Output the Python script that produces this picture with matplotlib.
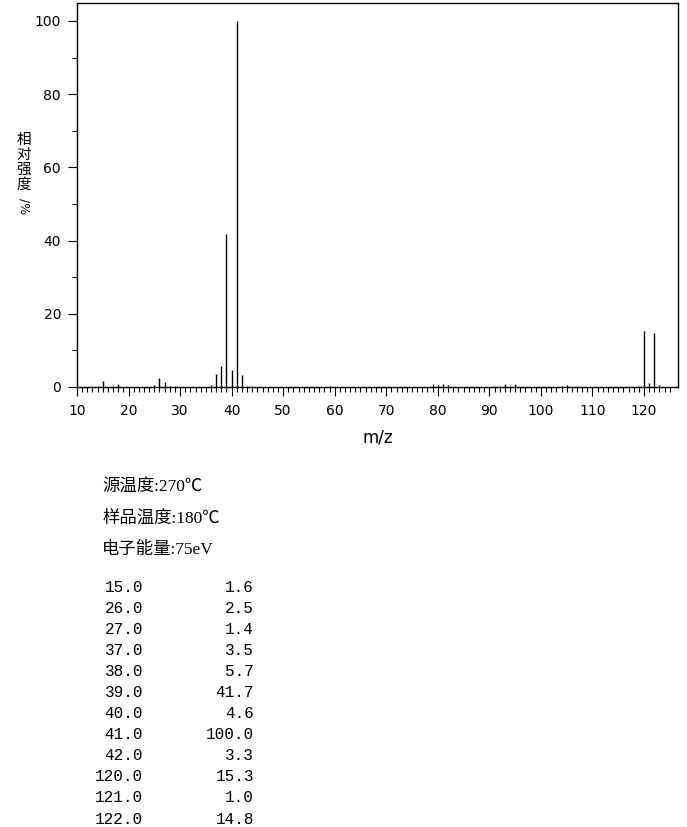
import matplotlib
matplotlib.use('Agg')
import matplotlib.pyplot as plt
from matplotlib.ticker import FixedLocator

# peaks listed in the table
mz = [15, 26, 27, 37, 38, 39, 40, 41, 42, 120, 121, 122]
inten = [1.6, 2.5, 1.4, 3.5, 5.7, 41.7, 4.6, 100.0, 3.3, 15.3, 1.0, 14.8]
# small peaks only visible on the plot
small_mz = [13, 14, 17, 18, 25, 28, 29, 36, 43, 44, 59, 79, 80, 81, 82,
            91, 92, 93, 94, 95, 104, 105, 106, 107, 117, 119, 123]
small_int = [0.4, 0.4, 0.4, 0.9, 0.6, 0.4, 0.4, 0.6, 0.4, 0.4, 0.3, 0.8, 0.5, 0.8, 0.5,
             0.4, 0.4, 0.8, 0.4, 0.8, 0.3, 0.5, 0.4, 0.4, 0.3, 0.4, 0.6]

info = ['源温度:270℃', '样品温度:180℃', '电子能量:75eV']
ylab_chars = ['相', '对', '强', '度']

W, H = 687, 827
fig = plt.figure(figsize=(W / 100, H / 100), dpi=100)
ax = fig.add_axes([77 / W, 1 - 387 / H, (678 - 77) / W, 384 / H])

ax.vlines(mz + small_mz, 0, inten + small_int, colors='black', lw=1.0)
ax.set_xlim(10, 126.6)
ax.set_ylim(0, 104.9)

ax.xaxis.set_major_locator(FixedLocator(range(10, 121, 10)))
ax.xaxis.set_minor_locator(FixedLocator(range(10, 126)))
ax.yaxis.set_major_locator(FixedLocator(range(0, 101, 20)))
ax.yaxis.set_minor_locator(FixedLocator(range(10, 100, 20)))
ax.tick_params(which='major', length=6.5, width=0.8, labelsize=10, pad=5)
ax.tick_params(which='minor', length=3.5, width=0.8)
ax.tick_params(axis='x', which='major', pad=6)
for s in ax.spines.values():
    s.set_linewidth(1.0)

ax.set_xlabel('m/z', fontsize=12, labelpad=7)

# vertical stacked y label, one char per line
for i, c in enumerate(ylab_chars):
    fig.text(24 / W, 1 - (140 + 15 * i) / H, c, family=['Noto Sans CJK SC', 'DejaVu Sans'],
             fontsize=10.5, ha='center', va='center')
fig.text(24 / W, 1 - 198 / H, '/%', family='DejaVu Sans', fontsize=9,
         ha='center', va='top', rotation=-90)

for i, t in enumerate(info):
    fig.text(102 / W, 1 - (488 + 31 * i) / H, t, family=['Liberation Serif', 'Noto Sans CJK SC'],
             fontsize=12.5, ha='left', va='center')

for i in range(len(mz)):
    y = 1 - (587 + 21.1 * i) / H
    fig.text(143 / W, y, '%.1f' % mz[i], family='Liberation Mono', fontsize=11.5,
             ha='right', va='center')
    fig.text(254 / W, y, '%.1f' % inten[i], family='Liberation Mono', fontsize=11.5,
             ha='right', va='center')

fig.savefig('out.png', dpi=100)
